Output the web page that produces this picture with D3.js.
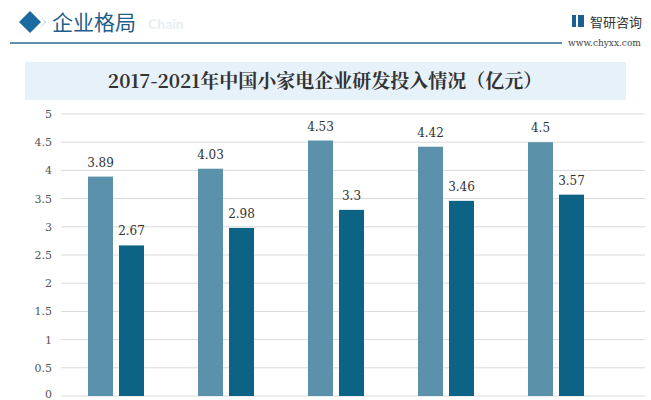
<!DOCTYPE html>
<html><head><meta charset="utf-8">
<script src="https://cdn.jsdelivr.net/npm/d3@7"></script>
<style>body{margin:0;background:#fff}</style>
</head><body><div id="chart"></div>
<script>
const years = ['2017', '2018', '2019', '2020', '2021'];
const seriesA = [3.89, 4.03, 4.53, 4.42, 4.5];
const seriesB = [2.67, 2.98, 3.3, 3.46, 3.57];
const yTicks = [0, 0.5, 1, 1.5, 2, 2.5, 3, 3.5, 4, 4.5, 5];

const width = 651, height = 400;
const svg = d3.select('#chart').append('svg').attr('width', width).attr('height', height);

// header
svg.append('path').attr('d', 'M30,11 L41,22 L30,33 L19,22 Z').attr('fill', '#1c6aa0');
svg.append('path').attr('d', 'M38,14 L46,22 L38,30 L45,22 Z').attr('fill', '#9cc3df');
svg.append('text').attr('x', 148).attr('y', 29).attr('font-size', 14).attr('font-weight', 'bold')
    .attr('font-family', 'Lato, sans-serif').attr('fill', '#e8eef4').text('Chain');
svg.append('text').attr('x', 52).attr('y', 30).attr('font-size', 21).attr('font-family', '"Noto Sans CJK SC"')
    .attr('fill', '#1f5f8b').text('企业格局');
svg.append('line').attr('x1', 10).attr('x2', 562).attr('y1', 43).attr('y2', 43).attr('stroke', '#2d6b94').attr('stroke-width', 1.5);
svg.append('rect').attr('x', 572).attr('y', 15).attr('width', 4).attr('height', 12).attr('fill', '#1c5f93');
svg.append('rect').attr('x', 578).attr('y', 15).attr('width', 6).attr('height', 12).attr('fill', '#1c5f93');
svg.append('text').attr('x', 590).attr('y', 27).attr('font-size', 13).attr('font-family', '"Noto Sans CJK SC"')
    .attr('fill', '#333').text('智研咨询');
svg.append('text').attr('x', 568).attr('y', 46).attr('font-size', 9).attr('font-family', '"DejaVu Serif", serif')
    .attr('fill', '#444').text('www.chyxx.com');

// title
svg.append('rect').attr('x', 25).attr('y', 62).attr('width', 601).attr('height', 38).attr('fill', '#e6f1f9');
svg.append('text').attr('x', 325).attr('y', 88).attr('text-anchor', 'middle').attr('font-size', 19)
    .attr('font-weight', 'bold').attr('font-family', '"Noto Serif CJK SC", "Noto Sans CJK SC", serif')
    .attr('fill', '#333').text('2017-2021年中国小家电企业研发投入情况（亿元）');

// chart
const x = d3.scaleBand().domain(years).range([61, 611]);
const y = d3.scaleLinear().domain([0, 5]).range([396, 114]);

svg.append('g').selectAll('line').data(yTicks).join('line')
    .attr('x1', 61).attr('x2', 645).attr('y1', d => y(d)).attr('y2', d => y(d))
    .attr('stroke', '#d9d9d9');
svg.append('g').selectAll('text').data(yTicks).join('text')
    .attr('x', 52).attr('y', d => Math.min(y(d) + 4, 398)).attr('text-anchor', 'end')
    .attr('font-size', 11).attr('font-family', '"DejaVu Serif", serif').attr('fill', '#555').text(d => d);

function bars(vals, dx, color) {
    const g = svg.append('g');
    g.selectAll('rect').data(vals).join('rect')
        .attr('x', (d, i) => x(years[i]) + x.bandwidth() / 2 + dx).attr('width', 25)
        .attr('y', d => y(d)).attr('height', d => y(0) - y(d)).attr('fill', color);
    g.selectAll('text').data(vals).join('text')
        .attr('x', (d, i) => x(years[i]) + x.bandwidth() / 2 + dx + 12.5).attr('y', d => y(d) - 10)
        .attr('text-anchor', 'middle').attr('font-size', 12).attr('font-family', '"DejaVu Serif", serif')
        .attr('fill', '#333').text(d => d);
}
bars(seriesA, -28, '#5b91aa');
bars(seriesB, 3, '#0d6386');
</script></body></html>
